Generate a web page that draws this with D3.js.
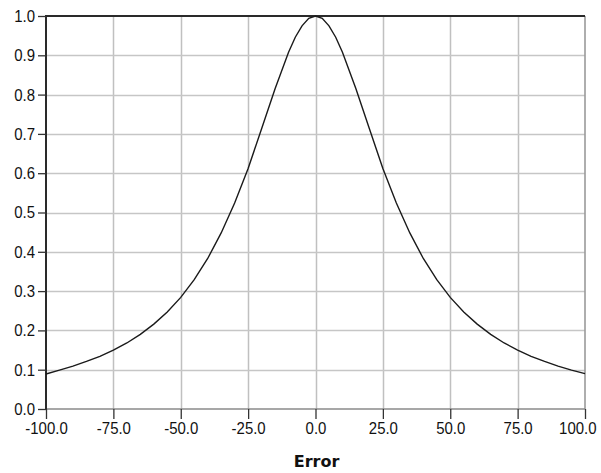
<!DOCTYPE html>
<html>
<head>
<meta charset="utf-8">
<script src="https://cdn.jsdelivr.net/npm/d3@7"></script>
<style>
  html, body { margin: 0; padding: 0; background: #fff; }
  svg { display: block; }
  .tick-label { font-family: "Liberation Sans", Arial, sans-serif; font-size: 17px; fill: #111; }
  .axis-title { font-family: "DejaVu Sans", sans-serif; font-weight: bold; font-size: 16px; fill: #111; }
</style>
</head>
<body>
<script>
// ---- data ----
const errorValues = [-100, -95, -90, -85, -80, -75, -70, -65, -60, -55, -50, -45, -40, -35, -30, -25, -20, -15, -10, -7.5, -5, -2.5, 0,
                     2.5, 5, 7.5, 10, 15, 20, 25, 30, 35, 40, 45, 50, 55, 60, 65, 70, 75, 80, 85, 90, 95, 100];
const responseValues = [0.089, 0.099, 0.109, 0.121, 0.134, 0.150, 0.168, 0.190, 0.216, 0.247, 0.284, 0.329, 0.383, 0.448, 0.524, 0.612, 0.713, 0.815, 0.908, 0.946, 0.975, 0.994, 1.000,
                        0.994, 0.975, 0.946, 0.908, 0.815, 0.713, 0.612, 0.524, 0.448, 0.383, 0.329, 0.284, 0.247, 0.216, 0.190, 0.168, 0.150, 0.134, 0.121, 0.109, 0.099, 0.090];
const xTicks = [-100, -75, -50, -25, 0, 25, 50, 75, 100];
const xTickLabels = ["-100.0", "-75.0", "-50.0", "-25.0", "0.0", "25.0", "50.0", "75.0", "100.0"];
const yTicks = [0, 0.1, 0.2, 0.3, 0.4, 0.5, 0.6, 0.7, 0.8, 0.9, 1.0];
const yTickLabels = ["0.0", "0.1", "0.2", "0.3", "0.4", "0.5", "0.6", "0.7", "0.8", "0.9", "1.0"];
const xTitle = "Error";

(function () {
const W = 601, H = 473;
const pLeft = 46, pRight = 585, pTop = 16, pBottom = 409;
const narrow = 0.88;

const svg = d3.select("body").append("svg").attr("width", W).attr("height", H);

const x = d3.scaleLinear().domain([-100, 100]).range([pLeft, pRight]);
const y = d3.scaleLinear().domain([0, 1]).range([pBottom, pTop]);

// grid
svg.append("g").selectAll("line").data(xTicks.slice(1, -1)).join("line")
  .attr("x1", d => Math.round(x(d)) + 0.5).attr("x2", d => Math.round(x(d)) + 0.5)
  .attr("y1", pTop).attr("y2", pBottom)
  .attr("stroke", "#c0c0c0").attr("stroke-width", 1.5);
svg.append("g").selectAll("line").data(yTicks.slice(1, -1)).join("line")
  .attr("y1", d => Math.round(y(d)) + 0.5).attr("y2", d => Math.round(y(d)) + 0.5)
  .attr("x1", pLeft).attr("x2", pRight)
  .attr("stroke", "#c6c6c6").attr("stroke-width", 1.5);

// right and bottom borders (gray)
svg.append("line").attr("x1", pRight).attr("x2", pRight).attr("y1", pTop).attr("y2", pBottom)
  .attr("stroke", "#9a9a9a").attr("stroke-width", 1.6);
svg.append("line").attr("x1", pLeft).attr("x2", pRight).attr("y1", pBottom).attr("y2", pBottom)
  .attr("stroke", "#8a8a8a").attr("stroke-width", 1.6);

// top border and left axis (dark)
svg.append("line").attr("x1", pLeft).attr("x2", pRight).attr("y1", pTop).attr("y2", pTop)
  .attr("stroke", "#2a2a2a").attr("stroke-width", 2);
svg.append("line").attr("x1", pLeft).attr("x2", pLeft).attr("y1", pTop - 1).attr("y2", pBottom)
  .attr("stroke", "#2a2a2a").attr("stroke-width", 2);

function condense(sel) {
  sel.each(function () {
    const len = this.getComputedTextLength();
    d3.select(this).attr("textLength", len * narrow).attr("lengthAdjust", "spacingAndGlyphs");
  });
}

// y axis ticks and labels
const yAxis = d3.axisLeft(y).tickValues(yTicks).tickFormat((d, i) => yTickLabels[i]).tickSize(8).tickPadding(3);
const gy = svg.append("g").attr("transform", `translate(${pLeft},0)`).call(yAxis);
gy.select(".domain").remove();
gy.attr("font-family", null).attr("font-size", null);
gy.selectAll(".tick line").attr("stroke", "#333").attr("stroke-width", 1.3);
gy.selectAll(".tick text").attr("class", "tick-label").call(condense);

// x axis ticks and labels
const xAxis = d3.axisBottom(x).tickValues(xTicks).tickFormat((d, i) => xTickLabels[i]).tickSize(10).tickPadding(3);
const gx = svg.append("g").attr("transform", `translate(0,${pBottom})`).call(xAxis);
gx.select(".domain").remove();
gx.attr("font-family", null).attr("font-size", null);
gx.selectAll(".tick line").attr("stroke", "#333").attr("stroke-width", 1.3);
gx.selectAll(".tick text").attr("class", "tick-label").call(condense);
// keep the last label inside the window
gx.selectAll(".tick text").filter((d, i) => i === xTicks.length - 1).attr("text-anchor", "end").attr("x", 11);

// curve
const line = d3.line().x((d, i) => x(errorValues[i])).y(d => y(d));
svg.append("path").datum(responseValues).attr("d", line)
  .attr("fill", "none").attr("stroke", "#1a1a1a").attr("stroke-width", 1.4);

// axis title
svg.append("text").attr("class", "axis-title")
  .attr("x", x(0) + 1).attr("y", 467).attr("text-anchor", "middle").text(xTitle);
})();
</script>
</body>
</html>
